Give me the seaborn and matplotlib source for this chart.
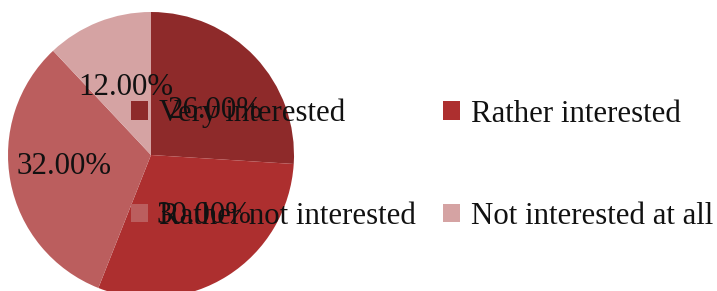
import matplotlib
matplotlib.use("Agg")
import matplotlib.pyplot as plt
import seaborn as sns

categories = ["Very interested", "Rather interested", "Rather not interested", "Not interested at all"]
values = [26.0, 30.0, 32.0, 12.0]
colors = ["#8e2a2a", "#ad2f2f", "#bb5e5e", "#d5a3a3"]

sns.set_theme(style="white")
plt.rcParams["font.family"] = ["Liberation Serif", "DejaVu Serif"]

W, H = 717, 291
fig = plt.figure(figsize=(W / 100, H / 100), dpi=100)
cx, cy, r = 151, 155, 143
ax = fig.add_axes([(cx - r) / W, (H - cy - r) / H, 2 * r / W, 2 * r / H])

wedges, texts, autotexts = ax.pie(
    values, colors=colors, startangle=90, counterclock=False,
    autopct=lambda p: f"{p:.2f}%", pctdistance=0.56,
    wedgeprops=dict(linewidth=0), textprops=dict(fontsize=22.2, color="#111111"))

# label placement (fractions of the radius), as in the reference
label_xy = [(0.448, 0.308), (0.371, -0.420), (-0.608, -0.077), (-0.175, 0.469)]
for t, xy in zip(autotexts, label_xy):
    t.set_position(xy)

ax.set_xlim(-1, 1)
ax.set_ylim(-1, 1)
ax.set_aspect("equal")
ax.axis("off")

# legend filled row-wise: row1 = Very, Rather interested; row2 = Rather not, Not at all
order = [0, 2, 1, 3]
leg = fig.legend([wedges[i] for i in order], [categories[i] for i in order],
                 ncol=2, loc="upper left", bbox_to_anchor=(131 / W, 1 - 99 / H),
                 frameon=False, fontsize=22.2, handlelength=0.55, handleheight=0.55,
                 handletextpad=0.35, columnspacing=0.9, labelspacing=2.38,
                 borderaxespad=0, borderpad=0)
for t in leg.get_texts():
    t.set_color("#111111")

fig.savefig("out.png", dpi=100)
